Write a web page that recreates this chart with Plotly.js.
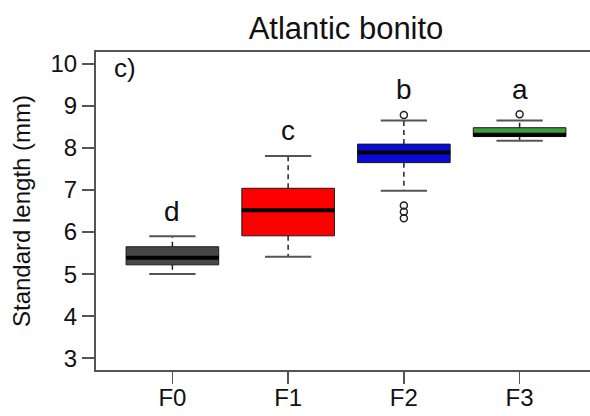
<!DOCTYPE html>
<html>
<head>
<meta charset="utf-8">
<script src="https://cdn.plot.ly/plotly-3.0.1.min.js"></script>
<style>
  html, body { margin: 0; padding: 0; overflow: hidden; background: #fff; }
  #chart { width: 600px; height: 416px; }
</style>
</head>
<body>
<div id="chart"></div>
<script>
// ---- data ----
const categories = ['F0', 'F1', 'F2', 'F3'];
const lowerWhisker = [5.00, 5.41, 6.98, 8.17];
const q1Values     = [5.22, 5.91, 7.65, 8.27];
const medianValues = [5.39, 6.52, 7.89, 8.31];
const q3Values     = [5.65, 7.04, 8.09, 8.48];
const upperWhisker = [5.90, 7.81, 8.65, 8.65];
const outliers     = [[], [], [8.78, 6.63, 6.48, 6.33], [8.80]];
const groupLetters = ['d', 'c', 'b', 'a'];
const fillColors   = ['#474747', '#FF0000', '#0A0AD6', '#3A9F3A'];

// ---- styles ----
const FONT = 'Liberation Sans, Arial, Helvetica, sans-serif';
const BOX_HALF = 0.4, CAP_HALF = 0.2, LETTER_OFFSET = 0.6;
const pos = categories.map((c, i) => i + 1);

const traces = [];

// boxes (no built-in whiskers; whiskers drawn dashed below)
categories.forEach((c, i) => {
  traces.push({
    type: 'box', x: [pos[i]], q1: [q1Values[i]], median: [medianValues[i]], q3: [q3Values[i]],
    lowerfence: [q1Values[i]], upperfence: [q3Values[i]],
    width: BOX_HALF * 2, whiskerwidth: 0, boxpoints: false,
    fillcolor: fillColors[i], line: { color: '#1a1a1a', width: 1 },
    showlegend: false, hoverinfo: 'skip'
  });
});

// dashed whiskers
const wx = [], wy = [];
pos.forEach((p, i) => {
  wx.push(p, p, null, p, p, null);
  wy.push(q3Values[i], upperWhisker[i], null, q1Values[i], lowerWhisker[i], null);
});
traces.push({ type: 'scatter', mode: 'lines', x: wx, y: wy,
  line: { color: '#222', width: 1.5, dash: '5px,4px' }, showlegend: false, hoverinfo: 'skip' });

// whisker caps
const cx = [], cy = [];
pos.forEach((p, i) => {
  cx.push(p - CAP_HALF, p + CAP_HALF, null, p - CAP_HALF, p + CAP_HALF, null);
  cy.push(upperWhisker[i], upperWhisker[i], null, lowerWhisker[i], lowerWhisker[i], null);
});
traces.push({ type: 'scatter', mode: 'lines', x: cx, y: cy,
  line: { color: '#555', width: 2 }, showlegend: false, hoverinfo: 'skip' });

// thick medians
const mx = [], my = [];
pos.forEach((p, i) => {
  mx.push(p - BOX_HALF, p + BOX_HALF, null);
  my.push(medianValues[i], medianValues[i], null);
});
traces.push({ type: 'scatter', mode: 'lines', x: mx, y: my,
  line: { color: '#000', width: 4 }, showlegend: false, hoverinfo: 'skip' });

// outliers
const ox = [], oy = [];
outliers.forEach((arr, i) => arr.forEach(v => { ox.push(pos[i]); oy.push(v); }));
traces.push({ type: 'scatter', mode: 'markers', x: ox, y: oy,
  marker: { symbol: 'circle-open', size: 7, color: '#222', line: { width: 1.5 } },
  showlegend: false, hoverinfo: 'skip' });

// group letters
const annotations = categories.map((c, i) => {
  const top = Math.max(upperWhisker[i], ...outliers[i]);
  return { x: pos[i], y: top + LETTER_OFFSET, xref: 'x', yref: 'y', text: groupLetters[i],
    showarrow: false, xanchor: 'center', yanchor: 'middle',
    font: { family: FONT, size: 28, color: '#111' } };
});
annotations.push({ x: 0.032, y: 0.95, xref: 'paper', yref: 'paper', text: 'c)',
  showarrow: false, xanchor: 'left', yanchor: 'middle',
  font: { family: FONT, size: 26, color: '#111' } });

const axisCommon = {
  showgrid: false, zeroline: false, showline: true, mirror: true,
  linecolor: '#555', linewidth: 2, ticks: 'outside', ticklen: 12,
  tickcolor: '#555', tickwidth: 1.5,
  tickfont: { family: FONT, size: 24, color: '#111' }
};

const layout = {
  width: 600, height: 416,
  margin: { l: 96, r: 4, t: 52, b: 46 },
  paper_bgcolor: '#fff', plot_bgcolor: '#fff',
  font: { family: FONT, color: '#111' },
  title: { text: 'Atlantic bonito', font: { family: FONT, size: 31, color: '#111' },
    x: 0.5, xref: 'paper', xanchor: 'center', y: 1 - 28 / 416, yref: 'container', yanchor: 'middle' },
  xaxis: Object.assign({}, axisCommon, {
    range: [0.34, 4.66], tickmode: 'array', tickvals: pos, ticktext: categories,
    ticklabelstandoff: -7
  }),
  yaxis: Object.assign({}, axisCommon, {
    range: [2.72, 10.28], tickmode: 'array', tickvals: [3, 4, 5, 6, 7, 8, 9, 10],
    title: { text: 'Standard length (mm)', font: { family: FONT, size: 24, color: '#111' }, standoff: 13 }
  }),
  annotations: annotations
};

Plotly.newPlot('chart', traces, layout, { staticPlot: true, displayModeBar: false });
</script>
</body>
</html>
